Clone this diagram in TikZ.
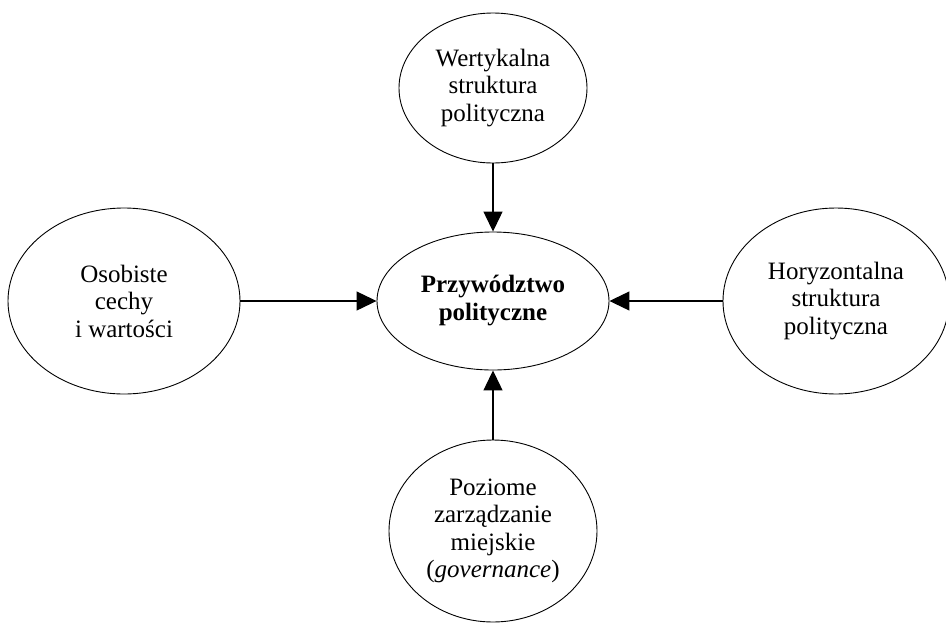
\documentclass[tikz,border=0pt]{standalone}
\usepackage{fontspec}
\setmainfont{Liberation Serif}
\usetikzlibrary{arrows.meta,shapes.geometric}

\begin{document}
\begin{tikzpicture}[x=1pt, y=-1pt,
  factor/.style={draw, ellipse, line width=0.9pt, align=center, inner sep=0pt, font=\fontsize{25}{27.5}\selectfont},
  rel/.style={-{Triangle[length=20pt, width=19pt]}, line width=1.2pt}
]
\useasboundingbox (0,0) rectangle (946,622);
\node[factor, minimum width=232pt, minimum height=138pt, font=\fontsize{25}{28}\selectfont\bfseries] (leader) at (493,301) {Przywództwo\\polityczne};
\node[factor, minimum width=188pt, minimum height=150pt] (vertical) at (493,88) {Wertykalna\\struktura\\polityczna};
\node[factor, minimum width=232pt, minimum height=186pt] (personal) at (124,301) {Osobiste\\cechy\\i wartości};
\node[factor, minimum width=226pt, minimum height=186pt] (horizontal) at (836,301) {Horyzontalna\\struktura\\polityczna};
\node[factor, minimum width=208pt, minimum height=182pt] (governance) at (493,531) {Poziome\\zarządzanie\\miejskie\\(\textit{governance})};

\draw[rel] (vertical) -- (leader);
\draw[rel] (personal) -- (leader);
\draw[rel] (horizontal) -- (leader);
\draw[rel] (governance) -- (leader);
\end{tikzpicture}
\end{document}
